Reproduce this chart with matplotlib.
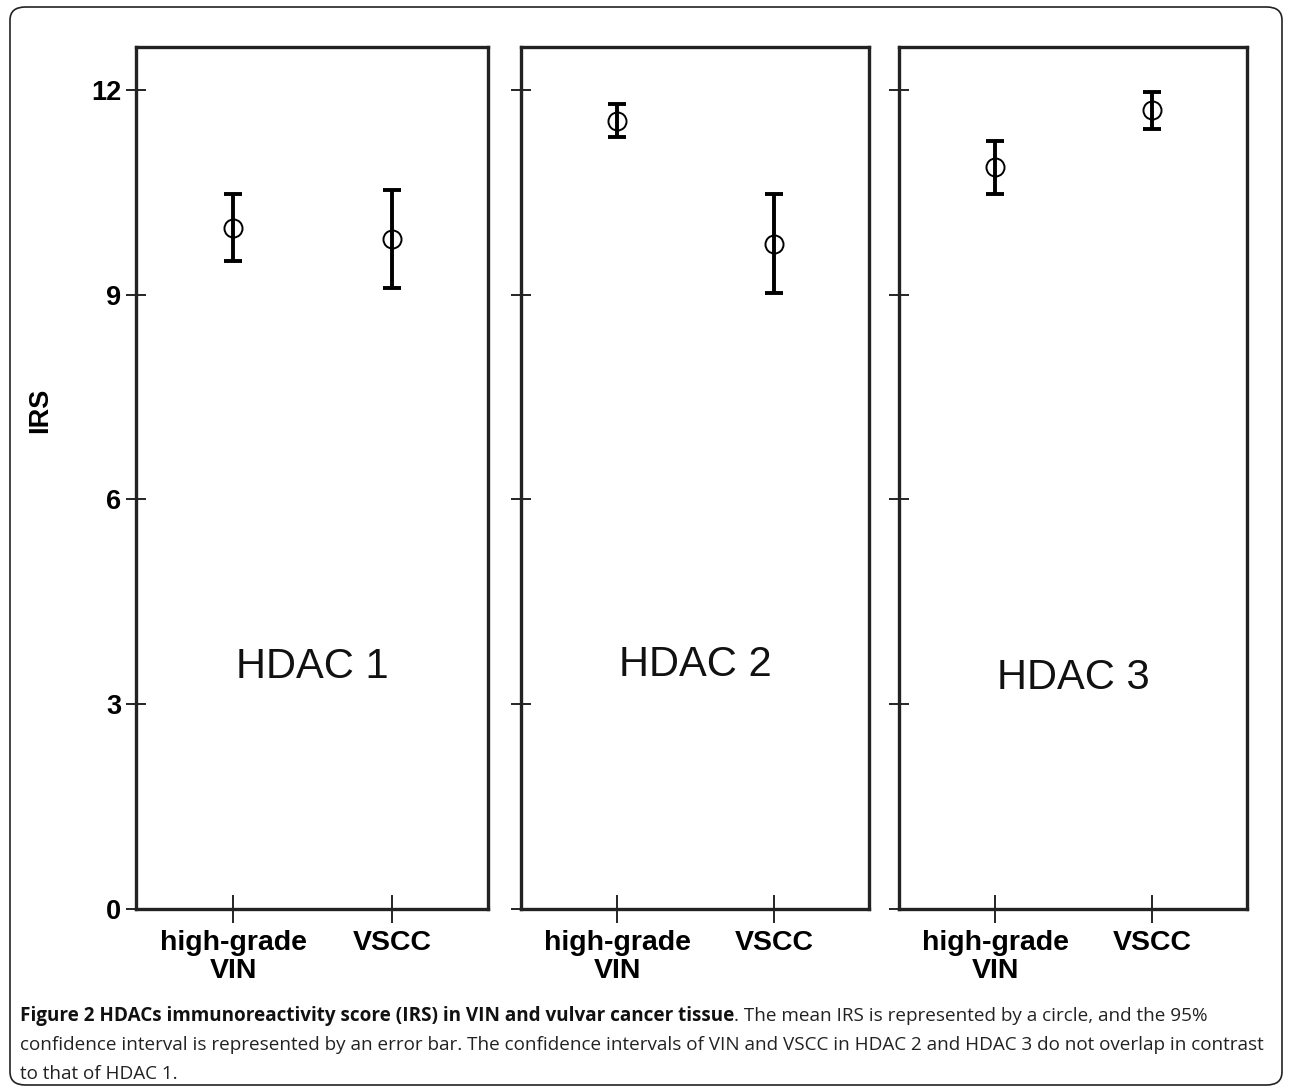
import matplotlib
matplotlib.use("Agg")
import matplotlib.pyplot as plt
from matplotlib.patches import FancyBboxPatch

# ---------------- data ----------------
panels = ["HDAC 1", "HDAC 2", "HDAC 3"]
groups = ["high-grade\nVIN", "VSCC"]
vin_mean = [9.98, 11.55, 10.87]
vin_lo = [9.49, 11.31, 10.47]
vin_hi = [10.48, 11.80, 11.26]
vscc_mean = [9.81, 9.75, 11.70]
vscc_lo = [9.10, 9.02, 11.43]
vscc_hi = [10.54, 10.47, 11.97]
label_y = [3.54, 3.57, 3.38]
yticks = [0, 3, 6, 9, 12]

W, H = 1290, 1092
fig = plt.figure(figsize=(W / 100, H / 100), dpi=100)

# outer rounded frame
frame = FancyBboxPatch((10 / W, 1 - 1085 / H), (1282 - 10) / W, (1085 - 7) / H,
                       boxstyle="round,pad=0,rounding_size=0.012",
                       transform=fig.transFigure, fill=False,
                       edgecolor="#222222", linewidth=1.2)
fig.patches.append(frame)

lefts = [136, 521, 899]
rights = [488, 869, 1247]
top_px, bot_px = 47, 909

lbl_font = "Liberation Sans"
for i in range(3):
    ax = fig.add_axes([lefts[i] / W, 1 - bot_px / H,
                       (rights[i] - lefts[i]) / W, (bot_px - top_px) / H])
    means = [vin_mean[i], vscc_mean[i]]
    lo = [vin_mean[i] - vin_lo[i], vscc_mean[i] - vscc_lo[i]]
    hi = [vin_hi[i] - vin_mean[i], vscc_hi[i] - vscc_mean[i]]
    ax.errorbar([0, 1], means, yerr=[lo, hi], fmt="none", ecolor="black",
                elinewidth=2.8, capsize=6.5, capthick=2.8, zorder=2)
    ax.plot([0, 1], means, linestyle="none", marker="o", markersize=13,
            markerfacecolor="none", markeredgecolor="black",
            markeredgewidth=1.4, zorder=3)
    ax.set_xlim(-0.612, 1.605)
    ax.set_ylim(0, 12.63)
    ax.set_yticks(yticks)
    ax.set_xticks([0, 1])
    ax.set_xticklabels(groups, fontsize=20.5, fontweight="bold",
                       family=lbl_font, linespacing=1.1)
    if i == 0:
        ax.set_yticklabels([str(t) for t in yticks], fontsize=19.5,
                           fontweight="bold", family=lbl_font)
    else:
        ax.set_yticklabels([])
    ax.tick_params(axis="y", direction="inout", length=15, width=1.2,
                   pad=3, colors="black")
    ax.tick_params(axis="x", direction="inout", length=20, width=1.2,
                   pad=5, colors="black")
    for s in ax.spines.values():
        s.set_linewidth(2.4)
        s.set_color("#222222")
    ax.text(0.5, label_y[i], panels[i], transform=ax.get_yaxis_transform(),
            ha="center", va="center", fontsize=30, family=lbl_font,
            color="#111111")

fig.text(40 / W, 1 - 410 / H, "IRS", rotation=90, fontsize=19.5,
         fontweight="bold", family=lbl_font, ha="center", va="center")

# ---------------- caption ----------------
cap_font = "Open Sans"
cap_size = 13.6
bold_part = "Figure 2 HDACs immunoreactivity score (IRS) in VIN and vulvar cancer tissue"
line1_rest = ". The mean IRS is represented by a circle, and the 95%"
line2 = ("confidence interval is represented by an error bar. The confidence intervals "
         "of VIN and VSCC in HDAC 2 and HDAC 3 do not overlap in contrast")
line3 = "to that of HDAC 1."
x0 = 20 / W
t1 = fig.text(x0, 1 - 1016 / H, bold_part, fontsize=cap_size, fontweight="bold",
              family=cap_font, va="center", ha="left", color="#111111")
fig.canvas.draw()
fig.text(t1.get_window_extent().x1 / W, 1 - 1016 / H, line1_rest,
         fontsize=cap_size, family=cap_font, va="center", ha="left",
         color="#222222")
fig.text(x0, 1 - 1045 / H, line2, fontsize=cap_size, family=cap_font,
         va="center", ha="left", color="#222222")
fig.text(x0, 1 - 1074 / H, line3, fontsize=cap_size, family=cap_font,
         va="center", ha="left", color="#222222")

fig.savefig("out.png", dpi=100)
